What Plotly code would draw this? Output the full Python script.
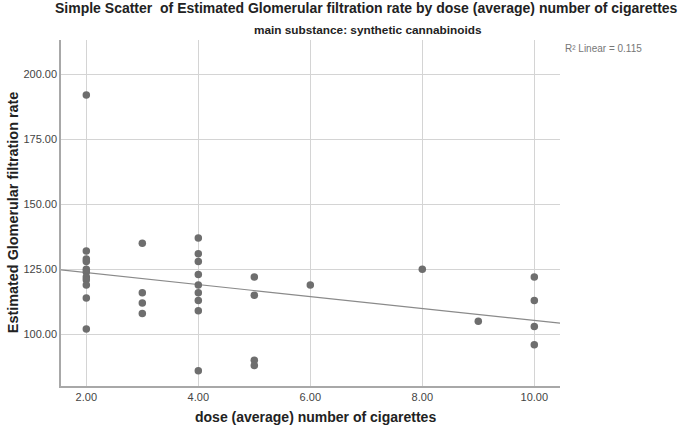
import numpy as np
import plotly.graph_objects as go

# Data
dose = [2]*11 + [3]*4 + [4]*9 + [5]*4 + [6] + [8] + [9] + [10]*4
egfr = [192, 132, 129, 128, 125, 124, 122, 121, 119, 114, 102,
        135, 116, 112, 108,
        137, 131, 128, 123, 119, 116, 113, 109, 86,
        122, 115, 90, 88,
        119,
        125,
        105,
        122, 113, 103, 96]
x_ticks = [2, 4, 6, 8, 10]
y_ticks = [100, 125, 150, 175, 200]
x_range = [1.548, 10.459]
y_range = [80.1, 213.2]

slope, intercept = np.polyfit(dose, egfr, 1)
fit_x = np.array(x_range)
fit_y = slope * fit_x + intercept

fig = go.Figure()
fig.add_trace(go.Scatter(x=fit_x, y=fit_y, mode="lines",
                         line=dict(color="#8a8a8a", width=1.2),
                         hoverinfo="skip", showlegend=False))
fig.add_trace(go.Scatter(x=dose, y=egfr, mode="markers",
                         marker=dict(color="#6e6e6e", size=7.5, line=dict(width=0)),
                         showlegend=False))

axis_font = dict(family="Liberation Sans, Arial, sans-serif", size=11, color="#444444")
fig.update_xaxes(range=x_range, tickvals=x_ticks,
                 ticktext=[f"{v:.2f}" for v in x_ticks],
                 showgrid=True, gridcolor="#d4d4d4", gridwidth=1,
                 showline=True, linecolor="#a8a8a8", linewidth=1.5,
                 zeroline=False, ticks="", tickfont=axis_font, ticklabelstandoff=0)
fig.update_yaxes(range=y_range, tickvals=y_ticks,
                 ticktext=[f"{v:.2f}" for v in y_ticks],
                 showgrid=True, gridcolor="#d4d4d4", gridwidth=1,
                 showline=True, linecolor="#a8a8a8", linewidth=1.5,
                 zeroline=False, ticks="", tickfont=axis_font)

def px_x(px):
    return (px - 61) / 499

def px_y(py):
    return (385.7 - py) / 345.7

annotations = [
    dict(text="<b>Simple Scatter\u00a0\u00a0of Estimated Glomerular filtration rate by dose (average) number of cigarettes</b>",
         x=px_x(366), y=px_y(8.5), font=dict(family="Liberation Sans, Arial", size=14, color="#222222")),
    dict(text="<b>main substance: synthetic cannabinoids</b>",
         x=px_x(368), y=px_y(30), font=dict(family="Liberation Sans Narrow, Liberation Sans, Arial", size=11.8, color="#222222")),
    dict(text="R\u00b2 Linear = 0.115", x=px_x(563), y=px_y(48), xanchor="left",
         font=dict(family="Liberation Sans, Arial", size=10, color="#777777")),
    dict(text="<b>dose (average) number of cigarettes</b>",
         x=px_x(315), y=px_y(417), font=dict(family="Liberation Sans, Arial", size=14, color="#222222")),
    dict(text="<b>Estimated Glomerular filtration rate</b>", textangle=-90,
         x=px_x(13), y=px_y(212), font=dict(family="Liberation Sans, Arial", size=14.4, color="#222222")),
]
for a in annotations:
    a.setdefault("xanchor", "center")
    a.update(xref="paper", yref="paper", yanchor="middle", showarrow=False)
fig.update_layout(annotations=annotations)

fig.update_layout(width=685, height=432,
                  margin=dict(l=61, r=125, t=40, b=46.3),
                  paper_bgcolor="white", plot_bgcolor="white",
                  showlegend=False)

fig.write_html("out.html", config={"displayModeBar": False},
               post_script="document.body.style.margin='0';")
